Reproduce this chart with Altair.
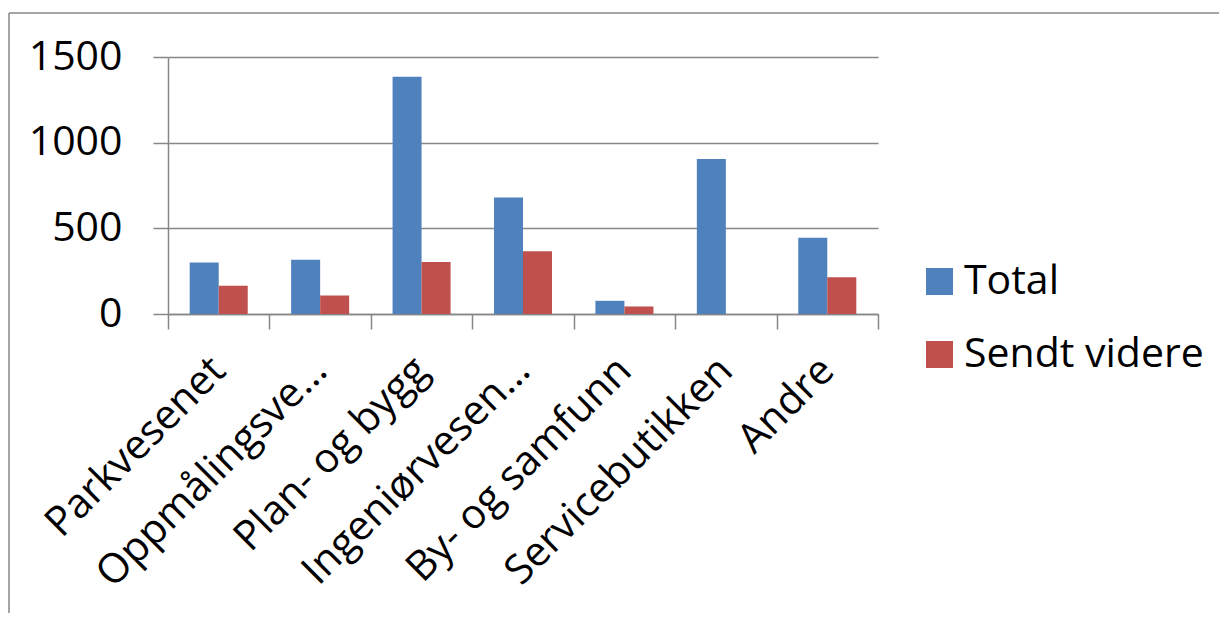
import altair as alt
import pandas as pd

categories = ["Parkvesenet", "Oppmålingsve…", "Plan- og bygg", "Ingeniørvesen…",
              "By- og samfunn", "Servicebutikken", "Andre"]
total = [300, 316, 1385, 680, 77, 905, 445]
sendt_videre = [165, 108, 304, 366, 44, 0, 215]
series = ["Total", "Sendt videre"]
colors = ["#4F81BD", "#C0504D"]
y_ticks = [0, 500, 1000, 1500]

rows = []
for c, t, s in zip(categories, total, sendt_videre):
    rows.append({"kategori": c, "serie": "Total", "verdi": t})
    rows.append({"kategori": c, "serie": "Sendt videre", "verdi": s})
df = pd.DataFrame(rows)

FONT = "Open Sans"
GRID = "#878787"
FS = 41

bars = alt.Chart(df).mark_bar().encode(
    x=alt.X("kategori:N", sort=categories, title=None,
            scale=alt.Scale(paddingInner=0, paddingOuter=0),
            axis=alt.Axis(labelAngle=-45, labelAlign="right", labelBaseline="middle",
                          labelFontSize=FS, labelFont=FONT, labelColor="#000",
                          tickBand="extent", tickSize=15, tickColor=GRID, tickWidth=1.5,
                          domainColor=GRID, domainWidth=1.5, labelPadding=35,
                          grid=False, labelLimit=500)),
    xOffset=alt.XOffset("serie:N", sort=series,
                        scale=alt.Scale(paddingInner=0, paddingOuter=0.748)),
    y=alt.Y("verdi:Q", title=None, scale=alt.Scale(domain=[0, 1500]),
            axis=alt.Axis(values=y_ticks, format="d", grid=True, gridColor=GRID,
                          gridWidth=1.5, domainColor=GRID, domainWidth=1.5,
                          tickColor=GRID, tickWidth=1.5, tickSize=15,
                          labelFontSize=FS, labelFont=FONT, labelColor="#000",
                          labelPadding=31)),
    color=alt.Color("serie:N", sort=series,
                    scale=alt.Scale(domain=series, range=colors),
                    legend=alt.Legend(title=None, orient="none", legendX=751, legendY=204,
                                      symbolType="square", symbolSize=729,
                                      symbolStrokeWidth=0, labelFontSize=FS, labelFont=FONT,
                                      labelColor="#000", labelOffset=4, rowPadding=31,
                                      padding=0, labelLimit=500)),
)

one = pd.DataFrame({"a": [0]})
frame_top = alt.Chart(one).mark_rule(color=GRID, strokeWidth=1.5).encode(
    x=alt.value(-159), x2=alt.value(1060), y=alt.value(-44))
frame_left = alt.Chart(one).mark_rule(color=GRID, strokeWidth=1.5).encode(
    x=alt.value(-159), y=alt.value(-44), y2=alt.value(560))

chart = alt.layer(bars, frame_top, frame_left).properties(
    width=710, height=257,
    padding={"left": 160, "top": 49, "right": 341, "bottom": 299},
    autosize=alt.AutoSizeParams(type="none"),
    background="white",
).configure_view(stroke=None)

chart.save("out.html", embed_options={"renderer": "svg", "actions": False})
